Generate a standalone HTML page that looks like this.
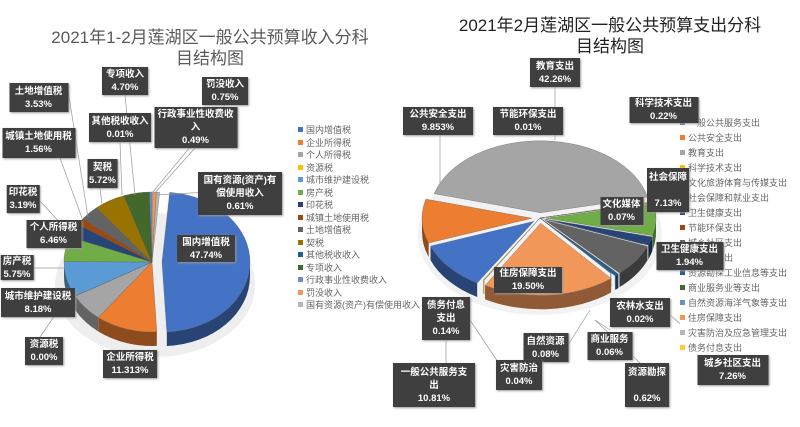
<!DOCTYPE html>
<html><head><meta charset="utf-8"><style>
body{margin:0;width:800px;height:427px;background:#fff;overflow:hidden;position:relative;font-family:"Liberation Sans","Noto Sans CJK SC",sans-serif}
.t{position:absolute;text-align:center;font-size:17px;line-height:21px}
.b{position:absolute;background:#3f3f3f;color:#fff;font-size:9.5px;font-weight:bold;text-align:center;line-height:13px;display:flex;flex-direction:column;justify-content:center;box-shadow:1px 1px 2px #999;white-space:nowrap;transform:translateX(-50%);padding:0 2px;box-sizing:border-box}
.lg{position:absolute;font-size:9px;color:#666;line-height:12.5px;white-space:nowrap}
.lg span{display:inline-block;width:5px;height:5px;margin-right:3px;vertical-align:1px}
svg{position:absolute;left:0;top:0}
</style></head><body>
<svg id="s" width="800" height="427"></svg>
<div class="t" style="left:25px;top:27px;width:370px;color:#595959">2021年1-2月莲湖区一般公共预算收入分科<br>目结构图</div>
<div class="t" style="left:425px;top:15px;width:370px;color:#222">2021年2月莲湖区一般公共预算支出分科<br>目结构图</div>
<div class="lg" style="left:298px;top:124px" id="l1"></div>
<div class="lg" style="left:680px;top:116px;line-height:15px;background:#fff" id="l2"></div>
<div id="boxes"></div>
<script>
const S=document.getElementById('s');let h='';
function P(cx,cy,rx,ry,a){a=a*Math.PI/180;return[cx+rx*Math.cos(a),cy+ry*Math.sin(a)]}
function dk(c,f){let n=parseInt(c.slice(1),16);let r=(n>>16)*f|0,g=(n>>8&255)*f|0,b=(n&255)*f|0;return`rgb(${r},${g},${b})`}
function pie(cx,cy,rx,ry,d,st,vals,cols,ex){
 let tot=vals.reduce((a,b)=>a+b,0),a=st,sl=[];
 vals.forEach((v,i)=>{let w=v/tot*360;let m=(a+w/2)*Math.PI/180;let e=ex[i]||0;sl.push({a1:a,a2:a+w,c:cols[i],x:cx+e*Math.cos(m),y:cy+e*Math.sin(m)*ry/rx});a+=w});
 let sides='',tops='';
 sl.forEach(s=>{
  [[0,180],[360,540],[-360,-180]].forEach(([lo,hi])=>{let s1=Math.max(s.a1,lo),s2=Math.min(s.a2,hi);if(s2<=s1)return;
   let p1=P(s.x,s.y,rx,ry,s1),p2=P(s.x,s.y,rx,ry,s2);
   sides+=`<path d="M${p1} A${rx},${ry} 0 0 1 ${p2} L${p2[0]},${p2[1]+d} A${rx},${ry} 0 0 0 ${p1[0]},${p1[1]+d}Z" fill="${dk(s.c,0.6)}"/>`});
  let p1=P(s.x,s.y,rx,ry,s.a1),p2=P(s.x,s.y,rx,ry,s.a2),lg=(s.a2-s.a1)>180?1:0;
  tops+=`<path d="M${s.x},${s.y} L${p1} A${rx},${ry} 0 ${lg} 1 ${p2}Z" fill="${s.c}" stroke="#555" stroke-width="0.3"/>`;
 });
 h+=sides+tops;
}
h+='<ellipse cx="155" cy="285" rx="100" ry="72" fill="#eee"/>';
h+='<ellipse cx="540" cy="235" rx="122" ry="80" fill="#f2f2f2"/>';
pie(152,262,88,70,14,-85,[47.74,11.313,6.46,0.001,8.18,5.75,3.19,1.56,3.53,5.72,0.01,4.70,0.49,0.75,0.61],
['#4472c4','#ed7d31','#a5a5a5','#ffc000','#5b9bd5','#70ad47','#264478','#9e480e','#636363','#997300','#255e91','#43682b','#698ed0','#f1975a','#b7b7b7'],{0:10});
pie(540,218,110,72,14,121,[10.81,9.853,42.26,0.22,0.07,7.13,1.94,0.01,7.26,0.02,0.62,0.06,0.08,19.5,0.04,0.14],
['#4472c4','#ed7d31','#a5a5a5','#ffc000','#5b9bd5','#70ad47','#264478','#9e480e','#636363','#997300','#255e91','#43682b','#698ed0','#f1975a','#b7b7b7','#ffcd33'],{0:8,1:8,2:8,5:6,6:6,8:6,10:6,13:8});
const L=[[125,95,135,195],[68,90,88,217],[225,105,152,193],[120,142,122,195],[195,148,153,195],[60,158,82,218],[100,188,102,205],[245,190,155,195],[39,200,62,225],[50,248,65,245],[30,268,65,268],[40,337,62,305],[555,87,555,140],[440,135,440,185],[700,123,690,195],[446,340,446,363],[470,320,500,365],[568,345,590,310],[610,330,595,320],[670,315,720,358],[640,363,595,320]];
L.forEach(l=>h+=`<line x1="${l[0]}" y1="${l[1]}" x2="${l[2]}" y2="${l[3]}" stroke="#999" stroke-width="0.7"/>`);
S.innerHTML=h;
const B=[[102,67,46,28,'专项收入<br>4.70%'],[9,83,59,29,'土地增值税<br>3.53%'],[202,77,46,28,'罚没收入<br>0.75%'],[89,113,62,29,'其他税收收入<br>0.01%'],[154,107,83,41,'行政事业性收费收<br>入<br>0.49%'],[2,128,73,30,'城镇土地使用税<br>1.56%'],[89,159,27,29,'契税<br>5.72%'],[198,172,84,43,'国有资源(资产)有<br>偿使用收入<br>0.61%'],[7,185,32,28,'印花税<br>3.19%'],[26,220,55,28,'个人所得税<br>6.46%'],[177,235,58,27,'国内增值税<br>47.74%'],[1,255,32,25,'房产税<br>5.75%'],[1,288,74,29,'城市维护建设税<br>8.18%'],[25,337,38,28,'资源税<br>0.00%'],[103,350,54,28,'企业所得税<br>11.313%'],
[530,58,50,29,'教育支出<br>42.26%'],[403,107,70,28,'公共安全支出<br>9.853%'],[493,107,70,28,'节能环保支出<br>0.01%'],[629,97,69,26,'科学技术支出<br>0.22%'],[647,168,42,44,'社会保障<br><br>7.13%'],[600,197,43,28,'文化媒体<br>0.07%'],[656,242,67,28,'卫生健康支出<br>1.94%'],[494,267,68,26,'住房保障支出<br>19.50%'],[422,297,48,43,'债务付息<br>支出<br>0.14%'],[610,298,60,29,'农林水支出<br>0.02%'],[523,333,45,29,'自然资源<br>0.08%'],[587,332,45,28,'商业服务<br>0.06%'],[393,363,82,44,'一般公共服务支<br>出<br>10.81%'],[496,360,46,30,'灾害防治<br>0.04%'],[625,363,44,44,'资源勘探<br><br>0.62%'],[697,355,71,30,'城乡社区支出<br>7.26%']];
document.getElementById('boxes').innerHTML=B.map(b=>`<div class="b" style="left:${b[0]+b[2]/2}px;top:${b[1]}px;min-width:${b[2]}px;height:${b[3]}px">${b[4]}</div>`).join('');
const c1=['#4472c4','#ed7d31','#a5a5a5','#ffc000','#5b9bd5','#70ad47','#264478','#9e480e','#636363','#997300','#255e91','#43682b','#698ed0','#f1975a','#b7b7b7'];
const n1=['国内增值税','企业所得税','个人所得税','资源税','城市维护建设税','房产税','印花税','城镇土地使用税','土地增值税','契税','其他税收收入','专项收入','行政事业性收费收入','罚没收入','国有资源(资产)有偿使用收入'];
document.getElementById('l1').innerHTML=n1.map((n,i)=>`<span style="background:${c1[i]}"></span>${n}`).join('<br>');
const n2=['一般公共服务支出','公共安全支出','教育支出','科学技术支出','文化旅游体育与传媒支出','社会保障和就业支出','卫生健康支出','节能环保支出','城乡社区支出','农林水支出','资源勘探工业信息等支出','商业服务业等支出','自然资源海洋气象等支出','住房保障支出','灾害防治及应急管理支出','债务付息支出'];
const c2=c1.concat(['#ffcd33']);
document.getElementById('l2').innerHTML=n2.map((n,i)=>`<span style="background:${c2[i]}"></span>${n}`).join('<br>');
</script>
</body></html>
